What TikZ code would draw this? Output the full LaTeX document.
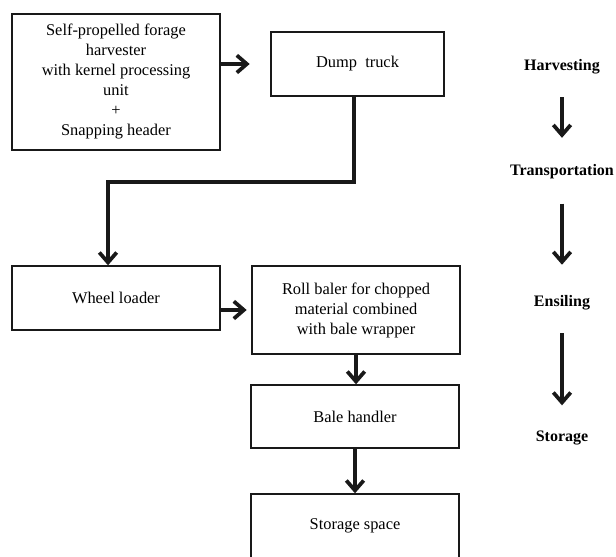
\documentclass[tikz,border=0pt]{standalone}
\usepackage{fontspec}
\setmainfont{Liberation Serif}
\usepackage{tikz}
\usetikzlibrary{arrows.meta}
\usetikzlibrary{positioning}
\tikzstyle{machine} = [rectangle, draw=black!90, line width=1pt, align=center, text centered, minimum width=156pt, inner sep=0pt, font=\fontsize{12.3pt}{15pt}\selectfont]
\tikzstyle{phase} = [font=\fontsize{12pt}{15pt}\selectfont\bfseries, inner sep=1pt]
\tikzstyle{arrow} = [draw=black!90, line width=3pt, -{Straight Barb[length=7.5pt,width=13pt,line width=2.8pt]}]
\begin{document}
\begin{tikzpicture}[x=0.75pt,y=0.75pt]
                \useasboundingbox (0,0) rectangle (616,556);
                % machines
                \node [machine, minimum height=102pt] (harvester) at (116,474) {Self-propelled forage\\harvester\\with kernel processing\\unit\\+\\Snapping header};
                \node [machine, minimum width=129.75pt, minimum height=48pt] (truck) at (357.5,492) {Dump\ \ truck};
                \node [machine, minimum height=48pt] (loader) at (116,258) {Wheel loader};
                \node [machine, minimum height=66pt] (baler) at (356,246) {Roll baler for chopped\\material combined\\with bale wrapper};
                \node [machine, minimum height=47.25pt] (handler) at (355,139.5) {Bale handler};
                \node [machine, minimum height=48pt] (storage) at (355,30) {Storage space};
                \coordinate (bend) at (108,374);
                \draw [arrow, shorten >=15.5pt] (harvester.east |- truck.west) -- (truck.west);
                \draw [arrow] ([xshift=-2.6pt]truck.south) |- (bend) -- (bend |- loader.north);
                \draw [arrow, shorten >=3.5pt] (loader.east |- baler.west) -- (baler.west);
                \draw [arrow] (baler.south) -- (baler.south |- handler.north);
                \draw [arrow] (handler.south) -- (handler.south |- storage.north);
                % phases
                \node [phase] (harvesting) at (562,489) {Harvesting};
                \node [phase] (transport) at (562,384) {Transportation};
                \node [phase] (ensiling) at (562,253) {Ensiling};
                \node [phase] (store) at (562,118) {Storage};
                \draw [arrow, shorten <=16pt, shorten >=19pt] (harvesting) -- (transport);
                \draw [arrow, shorten <=17pt, shorten >=22pt] (transport) -- (ensiling);
                \draw [arrow, shorten <=16pt, shorten >=18pt] (ensiling) -- (store);
            \end{tikzpicture}
\end{document}
